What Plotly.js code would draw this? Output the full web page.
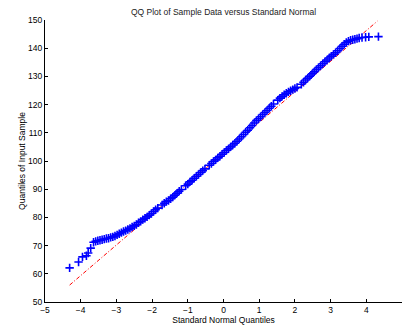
<!DOCTYPE html>
<html>
<head>
<meta charset="utf-8">
<script src="https://cdn.plot.ly/plotly-3.0.1.min.js"></script>
<style>html,body{margin:0;padding:0;background:#fff;}#chart{width:402px;height:327px;}</style>
</head>
<body>
<div id="chart"></div>
<script>
// Theoretical standard normal quantiles (x) and sample quantiles (y)
const sampleX = [-4.31,-4.06,-3.95,-3.84,-3.79,-3.72,
 -3.64,-3.58,-3.52,-3.46,-3.40,-3.34,-3.28,-3.22,-3.16,-3.10,-3.04,-2.98,-2.92,-2.86,-2.80,-2.74,-2.68,-2.62,-2.56,-2.50,
 -2.44,-2.38,-2.32,-2.26,-2.20,-2.14,-2.08,-2.02,-1.96,-1.90,-1.84,-1.72,-1.66,-1.60,-1.54,-1.48,-1.42,-1.36,-1.30,-1.24,
 -1.18,-1.06,-1.00,-0.94,-0.88,-0.82,-0.76,-0.70,-0.64,-0.58,-0.52,-0.40,-0.34,-0.28,-0.22,-0.16,-0.10,-0.04,0.02,0.08,
 0.14,0.20,0.26,0.32,0.38,0.44,0.50,0.56,0.62,0.68,0.74,0.80,0.86,0.92,0.98,1.04,1.10,1.16,1.22,1.28,1.34,1.40,1.52,1.58,
 1.64,1.70,1.76,1.82,1.88,1.94,2.00,2.06,2.18,2.24,2.30,2.36,2.42,2.48,2.54,2.60,2.66,2.72,2.78,2.84,2.90,2.96,3.02,3.08,
 3.14,3.20,3.26,3.32,3.38,3.44,3.50,3.56,3.62,3.68,3.74,3.80,
 3.88,3.98,4.07,4.34];
const sampleY = [62.1,64.2,66.0,66.4,67.4,69.1,
 71.2,71.5,71.7,71.9,72.1,72.3,72.5,72.6,72.9,73.1,73.4,73.8,74.2,74.6,75.0,75.3,75.7,76.1,76.6,77.0,
 77.5,78.1,78.6,79.2,79.7,80.2,80.8,81.4,82.1,82.7,83.3,84.4,85.0,85.6,86.0,86.6,87.2,87.9,88.6,89.3,
 89.9,91.2,91.8,92.6,93.2,93.9,94.6,95.2,95.9,96.6,97.2,98.5,99.1,99.8,100.4,101.1,101.7,102.4,103.0,103.7,
 104.3,105.0,105.7,106.3,107.0,107.8,108.6,109.4,110.2,110.9,111.8,112.6,113.5,114.3,115.0,115.7,116.5,117.2,117.9,118.7,119.4,120.2,121.6,122.3,
 122.9,123.5,124.0,124.5,124.9,125.3,125.7,126.1,127.2,127.9,128.7,129.4,130.1,130.9,131.6,132.4,133.1,133.8,134.5,135.2,135.8,136.5,137.2,137.8,
 138.4,139.1,139.9,140.7,141.4,142.0,142.5,142.8,143.0,143.2,143.4,143.6,
 143.8,143.9,144.0,144.1];
// Reference line (through quartiles, extrapolated)
const refX = [-4.31, 4.31];
const refY = [56.0, 149.6];
const xTicks = [-5,-4,-3,-2,-1,0,1,2,3,4,5];
const yTicks = [50,60,70,80,90,100,110,120,130,140,150];

const font = {family: 'Liberation Sans, Arial, sans-serif', size: 8.5, color: '#000'};

const traces = [
  {x: refX, y: refY, type: 'scatter', mode: 'lines',
   line: {color: '#ff0000', width: 1, dash: '4px,2px,1px,2px'}, hoverinfo: 'skip'},
  {x: sampleX, y: sampleY, type: 'scatter', mode: 'markers',
   marker: {symbol: 'cross-thin', size: 6, line: {color: '#0000ff', width: 1.6}, color: '#0000ff'}}
];

const layout = {
  width: 402, height: 327,
  margin: {l: 45, r: 0, t: 20, b: 25, pad: 0},
  paper_bgcolor: '#fff', plot_bgcolor: '#fff',
  showlegend: false,
  font: font,
  title: {text: 'QQ Plot of Sample Data versus Standard Normal', font: {family: font.family, size: 8.5, color: '#222'},
          x: 0.556, xanchor: 'center', y: 0.963, yanchor: 'middle'},
  xaxis: {range: [-5, 5], tickmode: 'array', tickvals: xTicks, ticks: 'inside', ticklen: 3, tickwidth: 1, tickcolor: '#000',
          showline: true, linecolor: '#000', linewidth: 1, showgrid: false, zeroline: false, mirror: false,
          tickfont: font, ticklabelstandoff: 0,
          title: {text: 'Standard Normal Quantiles', font: font, standoff: 2}},
  yaxis: {range: [50, 150], tickmode: 'array', tickvals: yTicks, ticks: 'inside', ticklen: 3, tickwidth: 1, tickcolor: '#000',
          showline: true, linecolor: '#000', linewidth: 1, showgrid: false, zeroline: false, mirror: false,
          tickfont: font,
          title: {text: 'Quantiles of Input Sample', font: font, standoff: 1}}
};

Plotly.newPlot('chart', traces, layout, {staticPlot: true, displayModeBar: false});
</script>
</body>
</html>
